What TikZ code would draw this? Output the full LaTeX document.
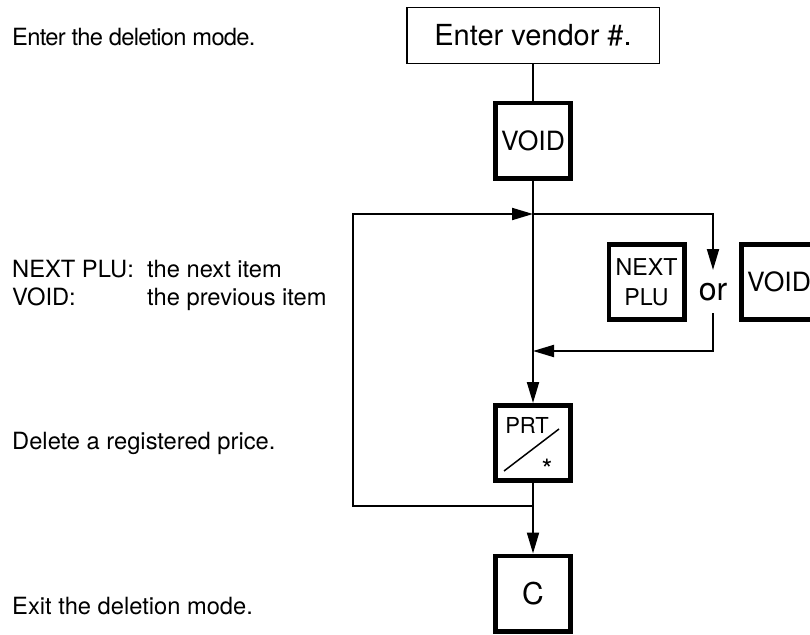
\documentclass[tikz,border=0pt]{standalone}
\usepackage{fontspec}
\setmainfont{TeX Gyre Heros}
\usetikzlibrary{arrows.meta}
\tikzset{
  thin line/.style={line width=2pt},
  arr/.style={thin line,-{Triangle[length=21pt,width=12pt]}},
  keybox/.style={draw,line width=4.8pt,minimum width=75.2pt,minimum height=75.2pt,inner sep=0pt},
  note/.style={anchor=base west,inner sep=0pt,font=\fontsize{23.7}{28}\selectfont},
}
\begin{document}
\begin{tikzpicture}[x=1pt,y=-1pt]
\useasboundingbox (0,0) rectangle (810,634);
% left notes
\node[note,font=\fontsize{23.7}{28}\selectfont\addfontfeature{LetterSpace=-3}] (n1) at (12,45.5) {Enter the deletion mode.};
\node[note] (n2a) at (12,277.5) {NEXT PLU:};
\node[note] (n2b) at (147,277.5) {the next item};
\node[note] (n3a) at (12,305.5) {VOID:};
\node[note] (n3b) at (147,305.5) {the previous item};
\node[note] (n4) at (12,449) {Delete a registered price.};
\node[note] (n5) at (12,614) {Exit the deletion mode.};
% boxes
\node[draw,line width=1.5pt,minimum width=252.5pt,minimum height=55.5pt,inner sep=0pt,
      font=\fontsize{29}{34}\selectfont] (top) at (533,35.5) {Enter vendor \#.};
\node[keybox,font=\fontsize{26.5}{30}\selectfont] (void1) at (533,140.5) {VOID};
\node[keybox,align=center,font=\fontsize{23.2}{30}\selectfont] (next) at (646.5,282) {NEXT\\PLU};
\node[keybox,font=\fontsize{26.5}{30}\selectfont] (void2) at (779,282) {VOID};
\node[inner sep=0pt,font=\fontsize{32}{36}\selectfont] (or) at (713,292) {or};
\node[keybox] (prt) at (533,443) {};
\node[keybox,font=\fontsize{30}{34}\selectfont] (c) at (533,593.5) {C};
% PRT key legend
\node[inner sep=0pt,font=\fontsize{22}{26}\selectfont] (prtlbl) at (527,425) {PRT};
\coordinate (s1) at (504,471);
\coordinate (s2) at (559,429);
\draw[line width=1.5pt] (s1) -- (s2);
\node[anchor=base,inner sep=0pt,font=\fontsize{28}{32}\selectfont] (star) at (547,479) {*};
% junction points
\coordinate (j1) at (533,214);
\coordinate (j2) at (533,351);
\coordinate (j3) at (533,506);
\coordinate (lt) at (353,214);
\coordinate (lb) at (353,506);
\coordinate (rt) at (713,214);
\coordinate (ortop) at (713,270);
\coordinate (orbot) at (713,313);
\coordinate (rb) at (713,351);
% connectors
\draw[thin line] (top.south) -- (void1.north);
\draw[arr] (void1.south) -- (prt.north);
\draw[arr] (prt.south) -- (c.north);
\draw[arr] (j3) -- (lb) -- (lt) -- (j1);
\draw[arr] (j1) -- (rt) -- (ortop);
\draw[arr] (orbot) -- (rb) -- (j2);
\end{tikzpicture}
\end{document}
